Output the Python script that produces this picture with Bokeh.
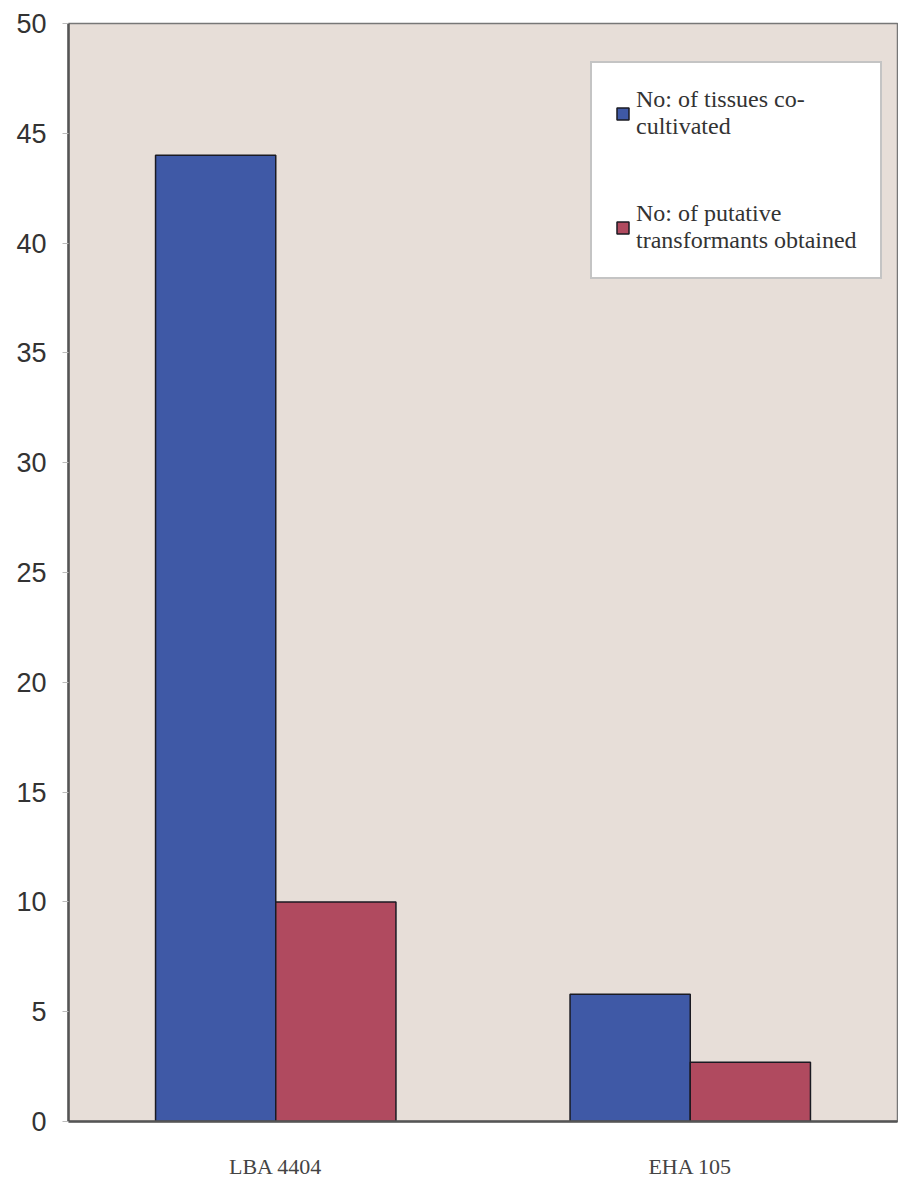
from bokeh.plotting import figure
from bokeh.models import ColumnDataSource, FactorRange, Legend, LegendItem, SingleIntervalTicker
from bokeh.transform import dodge
from bokeh.embed import file_html
from bokeh.resources import INLINE

# Agrobacterium strains and counts
strains = ["LBA 4404", "EHA 105"]
tissues_cocultivated = [44, 5.8]
putative_transformants = [10, 2.7]
series_labels = ["No: of tissues co-\ncultivated", "No: of putative\ntransformants obtained"]

source = ColumnDataSource(data=dict(
    strain=strains,
    tissues=tissues_cocultivated,
    transformants=putative_transformants,
))

p = figure(
    width=898, height=1181,
    x_range=FactorRange(factors=strains, range_padding=0),
    y_range=(0, 50),
    output_backend="svg", toolbar_location=None,
    min_border_left=68, min_border_right=1, min_border_top=23, min_border_bottom=59,
    background_fill_color="#e7ded8", border_fill_color="#ffffff",
)

blue = p.vbar(x=dodge("strain", -0.145, range=p.x_range), top="tissues", width=0.29,
              source=source, fill_color="#3f59a6", line_color="#1a1a22", line_width=1.5)
red = p.vbar(x=dodge("strain", 0.145, range=p.x_range), top="transformants", width=0.29,
             source=source, fill_color="#b04a5f", line_color="#1a1a22", line_width=1.5)

p.xgrid.visible = False
p.ygrid.visible = False
p.outline_line_color = "#777777"
p.outline_line_width = 1.5

p.yaxis.ticker = SingleIntervalTicker(interval=5)
p.yaxis.axis_line_color = "#555555"
p.yaxis.axis_line_width = 2.5
p.yaxis.major_tick_in = 0
p.yaxis.major_tick_out = 6
p.yaxis.major_tick_line_color = "#bbbbbb"
p.yaxis.minor_tick_line_color = None
p.yaxis.major_label_text_font = "Liberation Sans"
p.yaxis.major_label_text_font_size = "27px"
p.yaxis.major_label_text_color = "#333333"
p.yaxis.major_label_standoff = 16

p.xaxis.axis_line_color = "#555555"
p.xaxis.axis_line_width = 2.5
p.xaxis.major_tick_line_color = None
p.xaxis.minor_tick_line_color = None
p.xaxis.major_label_text_font = "Liberation Serif"
p.xaxis.major_label_text_font_size = "22px"
p.xaxis.major_label_text_color = "#444444"
p.xaxis.major_label_standoff = 26

legend = Legend(
    items=[LegendItem(label=series_labels[0], renderers=[blue]),
           LegendItem(label=series_labels[1], renderers=[red])],
    location=(522, 842),
    background_fill_color="#ffffff", background_fill_alpha=1,
    border_line_color="#8a8a8a", border_line_width=2,
    label_text_font="Liberation Serif", label_text_font_size="24px",
    label_text_color="#333333", label_text_line_height=1.15,
    glyph_width=15, glyph_height=15,
    spacing=60, padding=23, margin=0, label_standoff=6,
)
p.add_layout(legend)

open("out.html", "w").write(file_html(p, INLINE))
